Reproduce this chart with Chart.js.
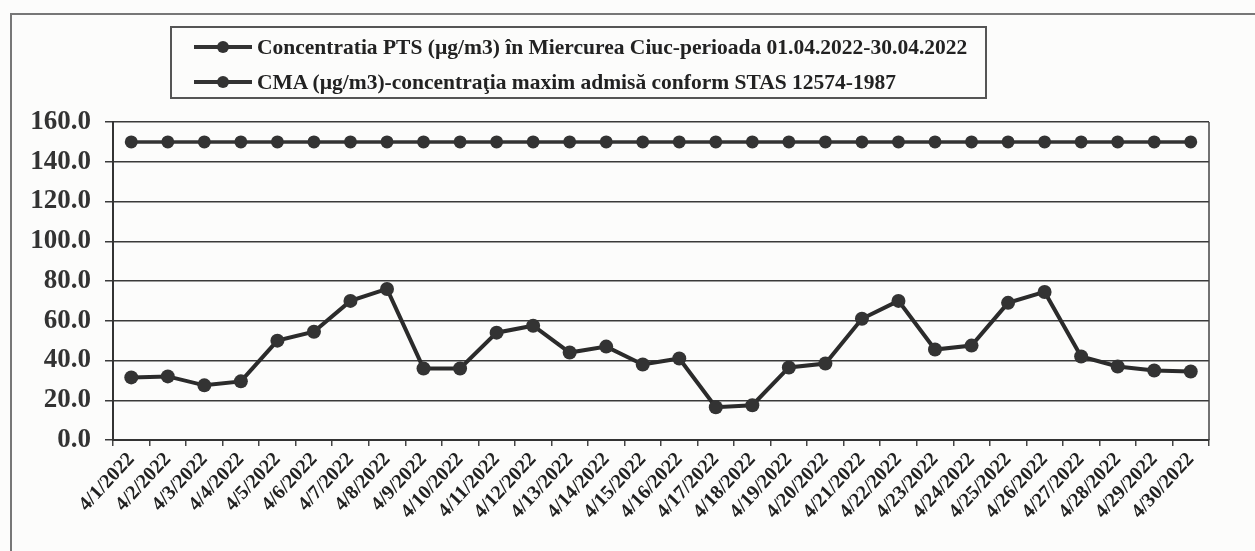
<!DOCTYPE html>
<html>
<head>
<meta charset="utf-8">
<script src="https://cdn.jsdelivr.net/npm/chart.js@4.4.0/dist/chart.umd.min.js"></script>
<style>
html, body { margin: 0; padding: 0; background: #fcfcfb; }
#wrap { position: relative; width: 1255px; height: 551px; }
#legend {
    position: absolute; left: 170px; top: 26px; width: 817px; height: 73px;
    border: 2px solid #555; box-sizing: border-box;
    font-family: 'Liberation Serif', 'Times New Roman', serif; font-weight: bold; font-size: 21.5px; color: #222;
}
.item { position: absolute; left: 22px; display: flex; align-items: center; white-space: nowrap; height: 24px; }
.mark { position: relative; width: 58px; height: 12px; margin-right: 5px; }
.mark::before { content: ''; position: absolute; left: 0; right: 0; top: 4px; height: 4px; background: #333; }
.mark::after { content: ''; position: absolute; left: 23px; top: 0; width: 12px; height: 12px; border-radius: 50%; background: #333; }
</style>
</head>
<body>
<div id="wrap">
    <canvas id="chart" width="1255" height="551"></canvas>
    <div id="legend"></div>
</div>
<script>
const labels = [
    '4/1/2022', '4/2/2022', '4/3/2022', '4/4/2022', '4/5/2022', '4/6/2022', '4/7/2022', '4/8/2022',
    '4/9/2022', '4/10/2022', '4/11/2022', '4/12/2022', '4/13/2022', '4/14/2022', '4/15/2022',
    '4/16/2022', '4/17/2022', '4/18/2022', '4/19/2022', '4/20/2022', '4/21/2022', '4/22/2022',
    '4/23/2022', '4/24/2022', '4/25/2022', '4/26/2022', '4/27/2022', '4/28/2022', '4/29/2022', '4/30/2022'
];

// PTS concentration
const pts_values = [
    31.5, 32, 27.5, 29.5, 50, 54.5, 70, 76, 36, 36,
    54, 57.5, 44, 47, 38, 41, 16.5, 17.5, 36.5, 38.5,
    61, 70, 45.5, 47.5, 69, 74.5, 42, 37, 35, 34.5
];

// CMA limit
const cma_values = [
    150, 150, 150, 150, 150, 150, 150, 150, 150, 150,
    150, 150, 150, 150, 150, 150, 150, 150, 150, 150,
    150, 150, 150, 150, 150, 150, 150, 150, 150, 150
];

const series_labels = [
    'Concentratia PTS (µg/m3) în Miercurea Ciuc-perioada 01.04.2022-30.04.2022',
    'CMA (µg/m3)-concentraţia maxim admisă conform STAS 12574-1987'
];

const y_ticks = { min: 0, max: 160, step: 20 };

const serif = "'Liberation Serif', 'Times New Roman', serif";

const frame = {
    id: 'frame',
    beforeDraw(c) {
        const ctx = c.ctx;
        ctx.save();
        ctx.fillStyle = '#fcfcfb';
        ctx.fillRect(0, 0, c.width, c.height);
        ctx.strokeStyle = '#777';
        ctx.lineWidth = 2;
        ctx.beginPath();
        ctx.moveTo(11, 560);
        ctx.lineTo(11, 14);
        ctx.lineTo(1260, 14);
        ctx.stroke();
        ctx.restore();
    },
    beforeDatasetsDraw(c) {
        // right edge of the plot area
        const a = c.chartArea;
        const ctx = c.ctx;
        ctx.save();
        ctx.strokeStyle = '#444';
        ctx.lineWidth = 1.5;
        ctx.beginPath();
        ctx.moveTo(a.right, a.top);
        ctx.lineTo(a.right, a.bottom);
        ctx.stroke();
        ctx.restore();
    }
};

const ctx = document.getElementById('chart').getContext('2d');
const chart = new Chart(ctx, {
    type: 'line',
    data: {
        labels: labels,
        datasets: [
            {
                label: series_labels[0],
                data: pts_values,
                borderColor: '#2b2b2b',
                borderWidth: 4,
                pointRadius: 7,
                pointBackgroundColor: '#333',
                pointBorderWidth: 0,
                tension: 0,
            },
            {
                label: series_labels[1],
                data: cma_values,
                borderColor: '#333',
                borderWidth: 3.5,
                pointRadius: 6.5,
                pointBackgroundColor: '#333',
                pointBorderWidth: 0,
                tension: 0,
            },
        ],
    },
    options: {
        responsive: false,
        animation: false,
        layout: { padding: { left: 10, right: 46, top: 122, bottom: 10 } },
        scales: {
            x: {
                type: 'category',
                offset: true,
                grid: { offset: true, drawOnChartArea: false, drawTicks: true, tickLength: 6, color: '#444', lineWidth: 1.5 },
                border: { color: '#333', width: 2 },
                ticks: {
                    autoSkip: false,
                    minRotation: 47,
                    maxRotation: 47,
                    color: '#222',
                    padding: 2,
                    font: { family: serif, weight: 'bold', size: 20 },
                },
                afterFit: s => { s.height = 101; },
            },
            y: {
                min: y_ticks.min,
                max: y_ticks.max,
                grid: { color: '#3a3a3a', lineWidth: 1.5, tickLength: 8 },
                border: { color: '#333', width: 2 },
                ticks: {
                    stepSize: y_ticks.step,
                    color: '#333',
                    padding: 14,
                    font: { family: serif, weight: 'bold', size: 27 },
                    callback: v => v.toFixed(1),
                },
                afterFit: s => { s.width = 103; },
            },
        },
        plugins: {
            legend: { display: false },
            tooltip: { enabled: false },
        },
    },
    plugins: [frame],
});

// legend box built from the dataset labels
const legend = document.getElementById('legend');
chart.data.datasets.forEach((ds, i) => {
    const item = document.createElement('div');
    item.className = 'item';
    item.style.top = (7 + i * 35) + 'px';
    const mark = document.createElement('span');
    mark.className = 'mark';
    const text = document.createElement('span');
    text.textContent = ds.label;
    item.appendChild(mark);
    item.appendChild(text);
    legend.appendChild(item);
});
</script>
</body>
</html>
